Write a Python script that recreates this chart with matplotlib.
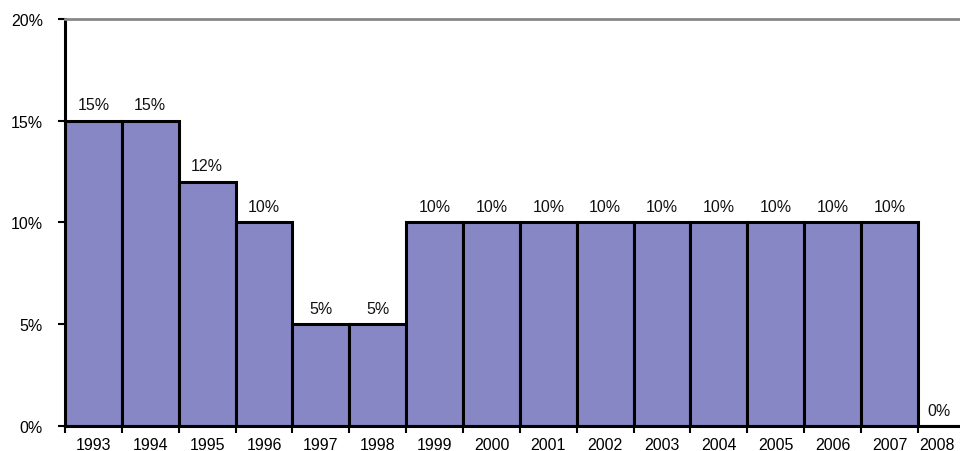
import numpy as np
import matplotlib.pyplot as plt
import matplotlib.transforms as mtransforms
from matplotlib.ticker import FixedLocator, FixedFormatter

years = [str(y) for y in range(1993, 2009)]
rates = [15, 15, 12, 10, 5, 5, 10, 10, 10, 10, 10, 10, 10, 10, 10, 0]
y_ticks = [0, 5, 10, 15, 20]
y_labels = ["0%", "5%", "10%", "15%", "20%"]

plt.rcParams['font.family'] = ['Liberation Sans', 'DejaVu Sans']

fig = plt.figure(figsize=(9.6, 4.52), dpi=100)
ax = fig.add_axes([0.0677, 0.0553, 0.9323, 0.9005])

x = np.arange(len(years))
bars = ax.bar(x, rates, width=1.0, align='edge', color='#8787c6',
              edgecolor='black', linewidth=2.2, zorder=2)

# the last column is only partly inside the frame, so its labels are nudged left
last = len(years) - 1
for xi, r in zip(x, rates):
    dx = -5 if xi == last else 0
    ax.annotate(f"{r}%", (xi + 0.5, r), xytext=(dx, 6), textcoords='offset points',
                ha='center', va='bottom', fontsize=11.5, color='#111111')

ax.set_xlim(0, 15.74)
ax.set_ylim(0, 20)

ax.yaxis.set_major_locator(FixedLocator(y_ticks))
ax.yaxis.set_major_formatter(FixedFormatter(y_labels))
ax.tick_params(axis='y', length=5, width=1.5, pad=11, labelsize=11.5, colors='black')

# boundaries get tick marks, year labels sit under bar centres
ax.xaxis.set_major_locator(FixedLocator(list(range(len(years) + 1))))
ax.xaxis.set_major_formatter(FixedFormatter([''] * (len(years) + 1)))
ax.xaxis.set_minor_locator(FixedLocator(list(x + 0.5)))
ax.xaxis.set_minor_formatter(FixedFormatter(years))
ax.tick_params(axis='x', which='major', length=5, width=1.5, direction='out')
ax.tick_params(axis='x', which='minor', length=0, pad=8, labelsize=11.5)

fig.canvas.draw()
shift = mtransforms.ScaledTranslation(-9 / 100, 0, fig.dpi_scale_trans)
for lbl in ax.xaxis.get_minorticklabels():
    if lbl.get_text() == years[-1]:
        lbl.set_transform(lbl.get_transform() + shift)

ax.spines['left'].set_linewidth(2.2)
ax.spines['bottom'].set_linewidth(2.2)
ax.spines['right'].set_visible(False)
ax.spines['top'].set_color('#888888')
ax.spines['top'].set_linewidth(2)

fig.savefig('out.png', dpi=100)
